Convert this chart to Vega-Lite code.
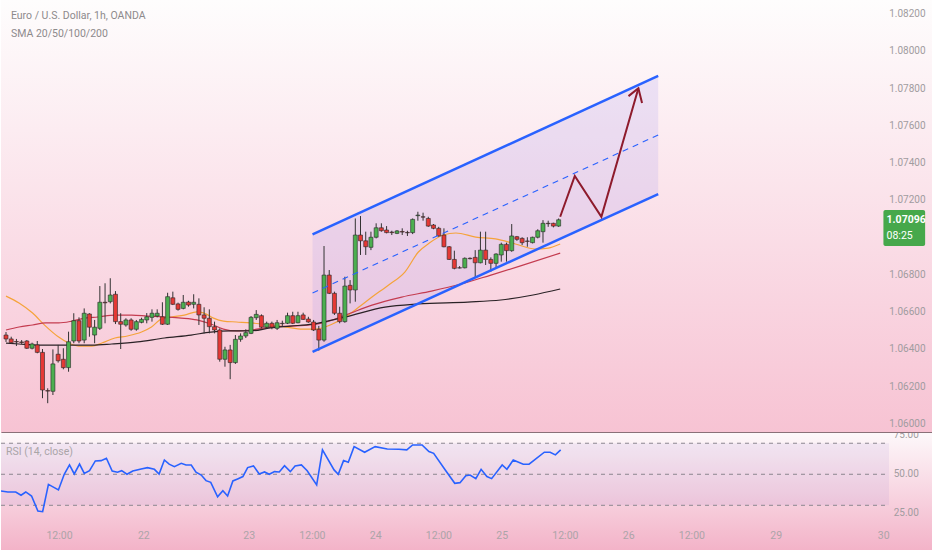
{
"$schema": "https://vega.github.io/schema/vega-lite/v6.json",
"padding": 0,
"spacing": 0,
"background": "#ffffff",
"config": {"view": {"stroke": null}, "font": "Roboto"},
"datasets": {
"candles": [
{"t":0,"o":1.06477,"h":1.06493,"l":1.0644,"c":1.06456},
{"t":1,"o":1.06456,"h":1.06468,"l":1.06429,"c":1.06436},
{"t":2,"o":1.06442,"h":1.06456,"l":1.06418,"c":1.0644},
{"t":3,"o":1.0644,"h":1.0645,"l":1.06429,"c":1.06437},
{"t":4,"o":1.06445,"h":1.0645,"l":1.06402,"c":1.06406},
{"t":5,"o":1.06406,"h":1.06436,"l":1.064,"c":1.06429},
{"t":6,"o":1.06424,"h":1.06445,"l":1.06379,"c":1.06384},
{"t":7,"o":1.06384,"h":1.06402,"l":1.06138,"c":1.06182},
{"t":8,"o":1.06179,"h":1.06191,"l":1.06111,"c":1.06176},
{"t":9,"o":1.06175,"h":1.064,"l":1.06155,"c":1.06322},
{"t":10,"o":1.06374,"h":1.06424,"l":1.06329,"c":1.06339},
{"t":11,"o":1.06347,"h":1.06406,"l":1.06293,"c":1.06302},
{"t":12,"o":1.06302,"h":1.06495,"l":1.0628,"c":1.06441},
{"t":13,"o":1.06445,"h":1.06594,"l":1.06433,"c":1.06554},
{"t":14,"o":1.06554,"h":1.06572,"l":1.06433,"c":1.06445},
{"t":15,"o":1.0645,"h":1.0662,"l":1.06433,"c":1.06594},
{"t":16,"o":1.0659,"h":1.06594,"l":1.06468,"c":1.06519},
{"t":17,"o":1.06477,"h":1.06558,"l":1.06433,"c":1.06519},
{"t":18,"o":1.06513,"h":1.0674,"l":1.06504,"c":1.06653},
{"t":19,"o":1.06653,"h":1.06755,"l":1.0654,"c":1.0665},
{"t":20,"o":1.06656,"h":1.06782,"l":1.06647,"c":1.06692},
{"t":21,"o":1.06696,"h":1.06713,"l":1.06536,"c":1.06549},
{"t":22,"o":1.06549,"h":1.06594,"l":1.06402,"c":1.06535},
{"t":23,"o":1.06531,"h":1.06567,"l":1.06522,"c":1.06558},
{"t":24,"o":1.06558,"h":1.06567,"l":1.065,"c":1.06508},
{"t":25,"o":1.06508,"h":1.06558,"l":1.065,"c":1.06549},
{"t":26,"o":1.06545,"h":1.0657,"l":1.0654,"c":1.06561},
{"t":27,"o":1.06558,"h":1.06595,"l":1.0654,"c":1.06575},
{"t":28,"o":1.06572,"h":1.06615,"l":1.06549,"c":1.06594},
{"t":29,"o":1.06579,"h":1.06615,"l":1.06572,"c":1.06594},
{"t":30,"o":1.06575,"h":1.06653,"l":1.06531,"c":1.06535},
{"t":31,"o":1.06535,"h":1.06704,"l":1.06531,"c":1.06683},
{"t":32,"o":1.06677,"h":1.0671,"l":1.06638,"c":1.06642},
{"t":33,"o":1.06644,"h":1.06651,"l":1.06608,"c":1.06615},
{"t":34,"o":1.0662,"h":1.06692,"l":1.06615,"c":1.06653},
{"t":35,"o":1.06654,"h":1.06661,"l":1.06629,"c":1.06638},
{"t":36,"o":1.06642,"h":1.06696,"l":1.0662,"c":1.06653},
{"t":37,"o":1.06642,"h":1.06674,"l":1.06531,"c":1.06585},
{"t":38,"o":1.06585,"h":1.06626,"l":1.06486,"c":1.06567},
{"t":39,"o":1.06567,"h":1.06615,"l":1.06486,"c":1.06522},
{"t":40,"o":1.06522,"h":1.06549,"l":1.06486,"c":1.06504},
{"t":41,"o":1.06504,"h":1.06513,"l":1.06334,"c":1.06347},
{"t":42,"o":1.06347,"h":1.06414,"l":1.06307,"c":1.06397},
{"t":43,"o":1.06397,"h":1.06424,"l":1.0624,"c":1.06329},
{"t":44,"o":1.06329,"h":1.06477,"l":1.06322,"c":1.06454},
{"t":45,"o":1.06454,"h":1.06486,"l":1.06441,"c":1.06472},
{"t":46,"o":1.06472,"h":1.06508,"l":1.06461,"c":1.0649},
{"t":47,"o":1.06486,"h":1.06579,"l":1.06482,"c":1.06572},
{"t":48,"o":1.0657,"h":1.06611,"l":1.06558,"c":1.06588},
{"t":49,"o":1.06581,"h":1.06588,"l":1.06513,"c":1.06519},
{"t":50,"o":1.06519,"h":1.06549,"l":1.06513,"c":1.0654},
{"t":51,"o":1.0654,"h":1.06549,"l":1.06508,"c":1.06519},
{"t":52,"o":1.06513,"h":1.06558,"l":1.06504,"c":1.06543},
{"t":53,"o":1.0654,"h":1.06554,"l":1.06526,"c":1.06538},
{"t":54,"o":1.0654,"h":1.06597,"l":1.06536,"c":1.06581},
{"t":55,"o":1.06581,"h":1.06602,"l":1.06536,"c":1.0654},
{"t":56,"o":1.06543,"h":1.06602,"l":1.0654,"c":1.06581},
{"t":57,"o":1.06585,"h":1.06597,"l":1.06558,"c":1.06561},
{"t":58,"o":1.06563,"h":1.06575,"l":1.06543,"c":1.06547},
{"t":59,"o":1.06547,"h":1.06558,"l":1.06499,"c":1.06504},
{"t":60,"o":1.06508,"h":1.06526,"l":1.06393,"c":1.0645},
{"t":61,"o":1.0645,"h":1.06955,"l":1.06441,"c":1.06799},
{"t":62,"o":1.06799,"h":1.06826,"l":1.06697,"c":1.06701},
{"t":63,"o":1.06701,"h":1.0671,"l":1.06585,"c":1.06594},
{"t":64,"o":1.06594,"h":1.06629,"l":1.0654,"c":1.06549},
{"t":65,"o":1.06549,"h":1.0679,"l":1.06543,"c":1.0674},
{"t":66,"o":1.06744,"h":1.06772,"l":1.06647,"c":1.06719},
{"t":67,"o":1.06719,"h":1.07103,"l":1.06656,"c":1.07014},
{"t":68,"o":1.07014,"h":1.07116,"l":1.06907,"c":1.06983},
{"t":69,"o":1.06983,"h":1.07032,"l":1.06907,"c":1.06951},
{"t":70,"o":1.06948,"h":1.07032,"l":1.06933,"c":1.07002},
{"t":71,"o":1.07002,"h":1.07077,"l":1.06996,"c":1.07053},
{"t":72,"o":1.07053,"h":1.07077,"l":1.07032,"c":1.07037},
{"t":73,"o":1.07041,"h":1.07062,"l":1.07023,"c":1.07027},
{"t":74,"o":1.0703,"h":1.07037,"l":1.07014,"c":1.07027},
{"t":75,"o":1.07023,"h":1.07041,"l":1.07019,"c":1.07036},
{"t":76,"o":1.07033,"h":1.0705,"l":1.07014,"c":1.0703},
{"t":77,"o":1.07028,"h":1.07037,"l":1.07009,"c":1.07026},
{"t":78,"o":1.07027,"h":1.07103,"l":1.07019,"c":1.07098},
{"t":79,"o":1.07118,"h":1.07139,"l":1.07091,"c":1.07121},
{"t":80,"o":1.07112,"h":1.07134,"l":1.07091,"c":1.0711},
{"t":81,"o":1.07103,"h":1.07112,"l":1.07058,"c":1.07062},
{"t":82,"o":1.07068,"h":1.07073,"l":1.07045,"c":1.0705},
{"t":83,"o":1.0705,"h":1.07058,"l":1.07005,"c":1.07009},
{"t":84,"o":1.07014,"h":1.0705,"l":1.06948,"c":1.06951},
{"t":85,"o":1.06951,"h":1.06955,"l":1.0688,"c":1.06883},
{"t":86,"o":1.06883,"h":1.0693,"l":1.0683,"c":1.06835},
{"t":87,"o":1.06838,"h":1.06847,"l":1.06835,"c":1.06837},
{"t":88,"o":1.06838,"h":1.06894,"l":1.06835,"c":1.06889},
{"t":89,"o":1.06889,"h":1.06894,"l":1.06883,"c":1.06887},
{"t":90,"o":1.06894,"h":1.06933,"l":1.06787,"c":1.06865},
{"t":91,"o":1.06865,"h":1.07032,"l":1.06862,"c":1.06933},
{"t":92,"o":1.06933,"h":1.07032,"l":1.06853,"c":1.06883},
{"t":93,"o":1.06883,"h":1.06894,"l":1.06817,"c":1.06862},
{"t":94,"o":1.06862,"h":1.06916,"l":1.06835,"c":1.06912},
{"t":95,"o":1.06907,"h":1.06973,"l":1.06871,"c":1.06964},
{"t":96,"o":1.06964,"h":1.06973,"l":1.06871,"c":1.0693},
{"t":97,"o":1.0693,"h":1.07073,"l":1.06924,"c":1.07009},
{"t":98,"o":1.07005,"h":1.07009,"l":1.06983,"c":1.06991},
{"t":99,"o":1.06996,"h":1.07002,"l":1.0696,"c":1.06973},
{"t":100,"o":1.06982,"h":1.07002,"l":1.06951,"c":1.0698},
{"t":101,"o":1.06973,"h":1.07005,"l":1.06969,"c":1.07002},
{"t":102,"o":1.07002,"h":1.07045,"l":1.06996,"c":1.07037},
{"t":103,"o":1.07032,"h":1.07094,"l":1.06973,"c":1.07077},
{"t":104,"o":1.07077,"h":1.07091,"l":1.07058,"c":1.07075},
{"t":105,"o":1.07077,"h":1.0708,"l":1.07055,"c":1.07062},
{"t":106,"o":1.07062,"h":1.07103,"l":1.07058,"c":1.07096}
],
"sma": [
{"s":"a","t":0,"v":1.06686},{"s":"a","t":2.5,"v":1.06649},{"s":"a","t":5.1,"v":1.06595},{"s":"a","t":7.6,"v":1.06525},{"s":"a","t":10.1,"v":1.06466},{"s":"a","t":12,"v":1.06434},{"s":"a","t":13.9,"v":1.06418},{"s":"a","t":16.5,"v":1.06418},{"s":"a","t":18.4,"v":1.06434},{"s":"a","t":20.9,"v":1.06461},{"s":"a","t":23.3,"v":1.06472},{"s":"a","t":26,"v":1.06493},{"s":"a","t":27.9,"v":1.0652},{"s":"a","t":29.8,"v":1.06563},{"s":"a","t":31.7,"v":1.06574},{"s":"a","t":34.2,"v":1.06584},{"s":"a","t":36.6,"v":1.06601},{"s":"a","t":38,"v":1.06595},{"s":"a","t":39.8,"v":1.06568},{"s":"a","t":41.7,"v":1.06552},{"s":"a","t":44.2,"v":1.06547},{"s":"a","t":46.9,"v":1.06542},{"s":"a","t":50.7,"v":1.06531},{"s":"a","t":53.7,"v":1.0652},{"s":"a","t":56.9,"v":1.06509},{"s":"a","t":59.4,"v":1.06509},{"s":"a","t":62.6,"v":1.06536},{"s":"a","t":65.1,"v":1.06574},{"s":"a","t":67.7,"v":1.06627},{"s":"a","t":70.2,"v":1.06681},{"s":"a","t":73.4,"v":1.06746},{"s":"a","t":76.5,"v":1.06815},{"s":"a","t":79.1,"v":1.06923},{"s":"a","t":81.2,"v":1.06971},{"s":"a","t":83.9,"v":1.07014},{"s":"a","t":86.3,"v":1.07025},{"s":"a","t":90.1,"v":1.07003},{"s":"a","t":93.9,"v":1.06993},{"s":"a","t":97.7,"v":1.06966},{"s":"a","t":101.5,"v":1.06939},{"s":"a","t":104,"v":1.06944},{"s":"a","t":106.3,"v":1.06966},
{"s":"b","t":0,"v":1.06504},{"s":"b","t":2.5,"v":1.0652},{"s":"b","t":5.1,"v":1.06531},{"s":"b","t":7.6,"v":1.06542},{"s":"b","t":10.1,"v":1.06542},{"s":"b","t":12.7,"v":1.06552},{"s":"b","t":15.2,"v":1.06568},{"s":"b","t":17.6,"v":1.06574},{"s":"b","t":20.9,"v":1.06584},{"s":"b","t":24.1,"v":1.06584},{"s":"b","t":27.1,"v":1.06579},{"s":"b","t":30.4,"v":1.06574},{"s":"b","t":33.6,"v":1.06568},{"s":"b","t":36.6,"v":1.06558},{"s":"b","t":39.3,"v":1.06536},{"s":"b","t":41.7,"v":1.06509},{"s":"b","t":44.2,"v":1.06499},{"s":"b","t":46.9,"v":1.06504},{"s":"b","t":50.7,"v":1.0652},{"s":"b","t":54.5,"v":1.06525},{"s":"b","t":58.3,"v":1.06531},{"s":"b","t":60.7,"v":1.06542},{"s":"b","t":65.1,"v":1.06584},{"s":"b","t":70.2,"v":1.06638},{"s":"b","t":75.9,"v":1.06681},{"s":"b","t":81.6,"v":1.06713},{"s":"b","t":87.3,"v":1.06751},{"s":"b","t":93,"v":1.06799},{"s":"b","t":98.7,"v":1.06848},{"s":"b","t":106.3,"v":1.06917},
{"s":"c","t":0,"v":1.06434},{"s":"c","t":2.5,"v":1.06429},{"s":"c","t":6.3,"v":1.06423},{"s":"c","t":12,"v":1.06423},{"s":"c","t":16.5,"v":1.06423},{"s":"c","t":20.3,"v":1.06429},{"s":"c","t":25.2,"v":1.0644},{"s":"c","t":30.4,"v":1.06461},{"s":"c","t":35.5,"v":1.06477},{"s":"c","t":39.3,"v":1.06493},{"s":"c","t":43.1,"v":1.06499},{"s":"c","t":46.9,"v":1.06499},{"s":"c","t":50.7,"v":1.06515},{"s":"c","t":54.5,"v":1.06525},{"s":"c","t":58.8,"v":1.06536},{"s":"c","t":65.1,"v":1.06574},{"s":"c","t":72.7,"v":1.06627},{"s":"c","t":79.1,"v":1.06644},{"s":"c","t":88.6,"v":1.06654},{"s":"c","t":94.9,"v":1.06665},{"s":"c","t":101.1,"v":1.06692},{"s":"c","t":106.3,"v":1.06724}
],
"chanfill": [{"t":58.8,"lo":1.06387,"hi":1.07018},{"t":125.1,"lo":1.07234,"hi":1.07868}],
"chan": [{"g":"up","t":58.8,"p":1.07018},{"g":"up","t":125.1,"p":1.07868},{"g":"dn","t":58.8,"p":1.06387},{"g":"dn","t":125.1,"p":1.07234}],
"chanmid": [{"t":58.8,"p":1.06703},{"t":125.1,"p":1.07551}],
"arrow": [
{"g":"path","k":0,"t":106.3,"p":1.07112},{"g":"path","k":1,"t":109.1,"p":1.07331},{"g":"path","k":2,"t":114.2,"p":1.07112},{"g":"path","k":3,"t":121.3,"p":1.07802},
{"g":"head","k":0,"t":119.4,"p":1.0776},{"g":"head","k":1,"t":121.3,"p":1.07802},{"g":"head","k":2,"t":122.0,"p":1.07723}
],
"toptext": [{"t":0.95,"p":1.0819,"txt":"Euro / U.S. Dollar, 1h, OANDA"},{"t":0.95,"p":1.08094,"txt":"SMA 20/50/100/200"}],
"pricelabels": [{"t":169.4,"p":1.082,"txt":"1.08200"},{"t":169.4,"p":1.08,"txt":"1.08000"},{"t":169.4,"p":1.078,"txt":"1.07800"},{"t":169.4,"p":1.076,"txt":"1.07600"},{"t":169.4,"p":1.074,"txt":"1.07400"},{"t":169.4,"p":1.072,"txt":"1.07200"},{"t":169.4,"p":1.068,"txt":"1.06800"},{"t":169.4,"p":1.066,"txt":"1.06600"},{"t":169.4,"p":1.064,"txt":"1.06400"},{"t":169.4,"p":1.062,"txt":"1.06200"},{"t":169.4,"p":1.06,"txt":"1.06000"}],
"box": [{"t":168.3,"t2":176.3,"p":1.07148,"p2":1.06955}],
"boxtext1": [{"t":168.9,"p":1.07097,"txt":"1.07096"}],
"boxtext2": [{"t":168.9,"p":1.0701,"txt":"08:25"}],
"band": [{"t":0,"t2":168.5,"lo":30,"hi":70}],
"levels": [{"t":0,"t2":168.5,"r":70},{"t":0,"t2":168.5,"r":50},{"t":0,"t2":168.5,"r":30}],
"rsi": [
{"t":0,"r":39.2},{"t":1.3,"r":38.6},{"t":2.8,"r":38.6},{"t":3.8,"r":36.5},{"t":4.7,"r":38.6},{"t":5.8,"r":36.0},{"t":7.0,"r":26.3},{"t":7.9,"r":25.9},{"t":9.0,"r":43.5},{"t":10.9,"r":39.9},{"t":12.0,"r":50.0},{"t":13.0,"r":56.0},{"t":13.9,"r":50.2},{"t":14.9,"r":56.6},{"t":15.8,"r":50.6},{"t":16.8,"r":52.3},{"t":17.9,"r":58.6},{"t":19.0,"r":58.8},{"t":20.0,"r":60.3},{"t":21.1,"r":52.1},{"t":22.1,"r":51.3},{"t":22.9,"r":52.3},{"t":23.9,"r":50.0},{"t":25.0,"r":52.1},{"t":26.6,"r":53.4},{"t":27.8,"r":54.3},{"t":29.1,"r":53.2},{"t":30.0,"r":50.2},{"t":31.0,"r":59.2},{"t":31.9,"r":56.5},{"t":32.9,"r":54.9},{"t":34.2,"r":57.1},{"t":35.1,"r":56.0},{"t":36.1,"r":56.0},{"t":37.0,"r":51.3},{"t":38.0,"r":49.5},{"t":38.9,"r":45.9},{"t":39.8,"r":44.8},{"t":41.1,"r":35.5},{"t":42.1,"r":39.4},{"t":43.0,"r":36.0},{"t":44.0,"r":45.7},{"t":44.9,"r":47.0},{"t":45.9,"r":48.5},{"t":46.8,"r":54.3},{"t":47.9,"r":55.4},{"t":49.0,"r":50.2},{"t":50.0,"r":51.5},{"t":50.9,"r":50.0},{"t":51.9,"r":51.7},{"t":52.8,"r":51.5},{"t":53.8,"r":55.5},{"t":54.9,"r":51.7},{"t":55.8,"r":55.4},{"t":57.0,"r":56.0},{"t":58.1,"r":52.3},{"t":59.9,"r":43.1},{"t":61.0,"r":65.7},{"t":63.2,"r":52.8},{"t":64.0,"r":50.0},{"t":65.0,"r":58.8},{"t":65.9,"r":57.7},{"t":67.0,"r":67.8},{"t":69.0,"r":64.2},{"t":71.0,"r":67.8},{"t":73.3,"r":66.3},{"t":75.5,"r":66.1},{"t":77.0,"r":65.7},{"t":78.1,"r":68.9},{"t":79.9,"r":68.9},{"t":81.2,"r":64.6},{"t":82.1,"r":63.5},{"t":84.3,"r":52.8},{"t":86.1,"r":44.2},{"t":87.1,"r":44.6},{"t":88.2,"r":49.1},{"t":89.0,"r":49.5},{"t":90.1,"r":47.2},{"t":91.1,"r":53.2},{"t":92.2,"r":48.5},{"t":93.1,"r":47.2},{"t":95.1,"r":56.0},{"t":96.0,"r":53.2},{"t":97.2,"r":59.2},{"t":99.1,"r":56.5},{"t":100.2,"r":56.5},{"t":103.1,"r":64.2},{"t":104.2,"r":64.2},{"t":105.2,"r":62.5},{"t":106.2,"r":65.7}
],
"rsitext": [{"t":0.95,"r":64.6,"txt":"RSI (14, close)"}],
"rsiaxis": [{"t":169.4,"r":75,"txt":"75.00"},{"t":169.4,"r":50,"txt":"50.00"},{"t":169.4,"r":25,"txt":"25.00"}]
},
"vconcat": [
{
"width": 932,
"height": 433,
"view": {"stroke": null, "fill": {"gradient": "linear", "x1": 0, "y1": 0, "x2": 0, "y2": 1, "stops": [{"offset": 0, "color": "#fefdfd"}, {"offset": 0.3, "color": "#fcecf1"}, {"offset": 0.7, "color": "#f9d4e0"}, {"offset": 1, "color": "#f7c3d3"}]}},
"encoding": {"x": {"field": "t", "type": "quantitative", "scale": {"domain": [0, 176.85], "nice": false, "zero": false}, "axis": {"labels": false, "ticks": false, "grid": false, "domain": true, "domainColor": "#1e1e1e", "domainWidth": 2, "title": null}}},
"layer": [
{"data": {"name": "chanfill"}, "mark": {"type": "area", "color": "#a99bef", "opacity": 0.2, "clip": true},
 "encoding": {"y": {"field": "lo", "type": "quantitative", "scale": {"domain": [1.05951, 1.08276], "nice": false, "zero": false}, "axis": null}, "y2": {"field": "hi"}}},
{"data": {"name": "sma"}, "mark": {"type": "line", "interpolate": "monotone", "clip": true},
 "encoding": {"y": {"field": "v", "type": "quantitative", "scale": {"domain": [1.05951, 1.08276], "nice": false, "zero": false}, "axis": null},
  "color": {"field": "s", "type": "nominal", "scale": {"domain": ["a", "b", "c"], "range": ["#f5a33a", "#c43c50", "#2a2226"]}, "legend": null},
  "strokeWidth": {"field": "s", "type": "nominal", "scale": {"domain": ["a", "b", "c"], "range": [1.2, 1.2, 1.6]}, "legend": null}}},
{"data": {"name": "candles"}, "mark": {"type": "rule", "color": "#333333", "strokeWidth": 1, "clip": true},
 "encoding": {"y": {"field": "l", "type": "quantitative", "scale": {"domain": [1.05951, 1.08276], "nice": false, "zero": false}, "axis": null}, "y2": {"field": "h"}}},
{"data": {"name": "candles"}, "mark": {"type": "bar", "size": 4, "stroke": "#262626", "strokeWidth": 0.6, "clip": true},
 "encoding": {"y": {"field": "o", "type": "quantitative", "scale": {"domain": [1.05951, 1.08276], "nice": false, "zero": false}, "axis": null}, "y2": {"field": "c"},
  "color": {"condition": {"test": "datum.c >= datum.o", "value": "#4caf50"}, "value": "#e53935"}}},
{"data": {"name": "chan"}, "mark": {"type": "line", "color": "#2962ff", "strokeWidth": 2.5, "clip": true},
 "encoding": {"y": {"field": "p", "type": "quantitative", "scale": {"domain": [1.05951, 1.08276], "nice": false, "zero": false}, "axis": null}, "detail": {"field": "g"}}},
{"data": {"name": "chanmid"}, "mark": {"type": "line", "color": "#2962ff", "strokeWidth": 1.1, "strokeDash": [6, 5], "clip": true},
 "encoding": {"y": {"field": "p", "type": "quantitative", "scale": {"domain": [1.05951, 1.08276], "nice": false, "zero": false}, "axis": null}}},
{"data": {"name": "arrow"}, "mark": {"type": "line", "color": "#8e1b2c", "strokeWidth": 2, "clip": true},
 "encoding": {"y": {"field": "p", "type": "quantitative", "scale": {"domain": [1.05951, 1.08276], "nice": false, "zero": false}, "axis": null}, "detail": {"field": "g"}, "order": {"field": "k", "type": "quantitative"}}},
{"data": {"name": "toptext"}, "mark": {"type": "text", "align": "left", "baseline": "middle", "fontSize": 10.5, "color": "#8d8a8c"},
 "encoding": {"y": {"field": "p", "type": "quantitative", "scale": {"domain": [1.05951, 1.08276], "nice": false, "zero": false}, "axis": null}, "text": {"field": "txt"}}},
{"data": {"name": "pricelabels"}, "mark": {"type": "text", "align": "left", "baseline": "middle", "fontSize": 10, "color": "#a19ca0"},
 "encoding": {"y": {"field": "p", "type": "quantitative", "scale": {"domain": [1.05951, 1.08276], "nice": false, "zero": false}, "axis": null}, "text": {"field": "txt"}}},
{"data": {"name": "box"}, "mark": {"type": "rect", "color": "#46a84b", "cornerRadius": 2},
 "encoding": {"x2": {"field": "t2"}, "y": {"field": "p", "type": "quantitative", "scale": {"domain": [1.05951, 1.08276], "nice": false, "zero": false}, "axis": null}, "y2": {"field": "p2"}}},
{"data": {"name": "boxtext1"}, "mark": {"type": "text", "align": "left", "baseline": "middle", "fontSize": 10.5, "fontWeight": "bold", "color": "#ffffff"},
 "encoding": {"y": {"field": "p", "type": "quantitative", "scale": {"domain": [1.05951, 1.08276], "nice": false, "zero": false}, "axis": null}, "text": {"field": "txt"}}},
{"data": {"name": "boxtext2"}, "mark": {"type": "text", "align": "left", "baseline": "middle", "fontSize": 10.5, "color": "#ffffff"},
 "encoding": {"y": {"field": "p", "type": "quantitative", "scale": {"domain": [1.05951, 1.08276], "nice": false, "zero": false}, "axis": null}, "text": {"field": "txt"}}}
]
},
{
"width": 932,
"height": 117,
"view": {"stroke": null, "fill": {"gradient": "linear", "x1": 0, "y1": 0, "x2": 0, "y2": 1, "stops": [{"offset": 0, "color": "#fdf8fa"}, {"offset": 0.5, "color": "#f8d6e2"}, {"offset": 1, "color": "#f3b3c8"}]}},
"encoding": {"x": {"field": "t", "type": "quantitative", "scale": {"domain": [0, 176.85], "nice": false, "zero": false},
  "axis": {"orient": "bottom", "offset": -15, "values": [11, 27, 47, 59, 71, 83, 95, 107, 119, 131, 147, 167.4],
   "labelExpr": "datum.value == 27 ? '22' : datum.value == 47 ? '23' : datum.value == 71 ? '24' : datum.value == 95 ? '25' : datum.value == 119 ? '26' : datum.value == 147 ? '29' : datum.value == 167.4 ? '30' : '12:00'",
   "ticks": false, "tickSize": 0, "domain": false, "grid": false, "labelPadding": 0, "labelBaseline": "middle", "labelColor": "#aca4a8", "labelFontSize": 10.5, "labelFlush": false, "labelOverlap": false, "title": null}}},
"layer": [
{"data": {"name": "band"}, "mark": {"type": "rect", "color": "#9575cd", "opacity": 0.1},
 "encoding": {"x2": {"field": "t2"}, "y": {"field": "lo", "type": "quantitative", "scale": {"domain": [1.2, 76.6], "nice": false, "zero": false}, "axis": null}, "y2": {"field": "hi"}}},
{"data": {"name": "levels"}, "mark": {"type": "rule", "color": "#8c8790", "strokeWidth": 1, "strokeDash": [4, 4]},
 "encoding": {"x2": {"field": "t2"}, "y": {"field": "r", "type": "quantitative", "scale": {"domain": [1.2, 76.6], "nice": false, "zero": false}, "axis": null}}},
{"data": {"name": "rsi"}, "mark": {"type": "line", "color": "#2962ff", "strokeWidth": 1.6, "clip": true},
 "encoding": {"y": {"field": "r", "type": "quantitative", "scale": {"domain": [1.2, 76.6], "nice": false, "zero": false}, "axis": null}}},
{"data": {"name": "rsitext"}, "mark": {"type": "text", "align": "left", "baseline": "middle", "fontSize": 10.5, "color": "#aaa5a8"},
 "encoding": {"y": {"field": "r", "type": "quantitative", "scale": {"domain": [1.2, 76.6], "nice": false, "zero": false}, "axis": null}, "text": {"field": "txt"}}},
{"data": {"name": "rsiaxis"}, "mark": {"type": "text", "align": "left", "baseline": "middle", "fontSize": 10, "color": "#a19ca0", "clip": true},
 "encoding": {"y": {"field": "r", "type": "quantitative", "scale": {"domain": [1.2, 76.6], "nice": false, "zero": false}, "axis": null}, "text": {"field": "txt"}}}
]
}
]
}
